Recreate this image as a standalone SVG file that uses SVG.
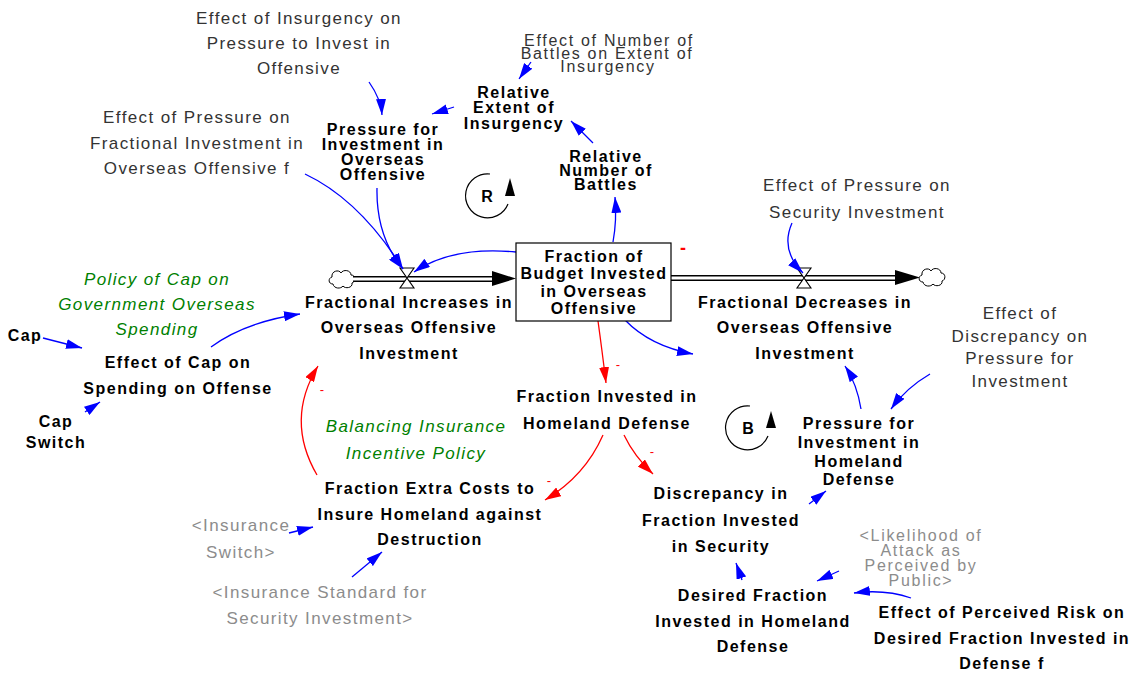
<svg xmlns="http://www.w3.org/2000/svg" width="1138" height="673" viewBox="0 0 1138 673">
  <style>
    text { text-anchor: middle; }
    .b { font-family: "Liberation Sans", Arial, sans-serif; font-weight: bold; font-size: 16px; letter-spacing: 1.5px; fill: #000; }
    .g { font-family: "Liberation Sans", Arial, sans-serif; font-size: 17px; letter-spacing: 1.4px; fill: #333; }
    .s { font-family: "Liberation Sans", Arial, sans-serif; font-size: 17px; letter-spacing: 1.4px; fill: #8c8c8c; }
    .tight { font-size: 16px; letter-spacing: 1.7px; }
    .p { font-family: "Liberation Sans", Arial, sans-serif; font-style: italic; font-size: 17px; letter-spacing: 1.4px; fill: #008000; }
    .pol { font-family: "Liberation Sans", Arial, sans-serif; font-size: 13px; fill: #ff0000; }
    .lnk { fill: none; stroke: #0000ff; stroke-width: 1.3; marker-end: url(#ab); }
    .neg { fill: none; stroke: #ff0000; stroke-width: 1.3; marker-end: url(#ar); }
    .loop { fill: none; stroke: #000; stroke-width: 1.2; }
  </style>
  <defs>
    <marker id="ab" viewBox="0 0 16 10" refX="16" refY="5" markerWidth="16" markerHeight="10" markerUnits="userSpaceOnUse" orient="auto">
      <path d="M0,0 L16,5 L0,10 z" fill="#0000ff"/>
    </marker>
    <marker id="ar" viewBox="0 0 16 10" refX="16" refY="5" markerWidth="16" markerHeight="10" markerUnits="userSpaceOnUse" orient="auto">
      <path d="M0,0 L16,5 L0,10 z" fill="#ff0000"/>
    </marker>
    <path id="cloud" d="M-9,5 C-14,5 -14,-1 -10,-2 C-11,-8 -3,-10 -1,-6 C1,-10 9,-9 9,-4 C14,-4 14,3 10,4 C11,9 3,10 1,7 C-1,10 -8,10 -9,5 Z" fill="#fff" stroke="#000" stroke-width="1"/>
    <path id="valve" d="M-7,-10 L7,-10 L-7,10 L7,10 Z" fill="#fff" stroke="#000" stroke-width="1.1"/>
  </defs>

  <rect width="1138" height="673" fill="#fff"/>

  <!-- flow pipes, clouds and valves -->
  <g id="flow-increase">
    <use href="#cloud" x="342" y="279"/>
    <line x1="353" y1="279" x2="494" y2="279" stroke="#000" stroke-width="6"/>
    <line x1="353" y1="279" x2="496" y2="279" stroke="#fff" stroke-width="3"/>
    <path d="M492,271 L516,278.5 L492,286 z" fill="#000"/>
    <use href="#valve" x="407" y="278"/>
  </g>
  <g id="flow-decrease">
    <line x1="671" y1="278" x2="897" y2="278" stroke="#000" stroke-width="6"/>
    <line x1="671" y1="278" x2="899" y2="278" stroke="#fff" stroke-width="3"/>
    <path d="M895,270 L920,277.5 L895,285 z" fill="#000"/>
    <use href="#cloud" x="932" y="277"/>
    <use href="#valve" x="804" y="278"/>
  </g>

  <!-- connectors -->
  <g id="connectors">
    <path class="lnk" d="M369,82 Q381,99 382,115"/>
    <path class="lnk" d="M454,107 L432,114"/>
    <path class="lnk" d="M531,62 L519,79"/>
    <path class="lnk" d="M593,143 L571,121"/>
    <path class="lnk" d="M613,242 Q617,220 615,197"/>
    <path class="lnk" d="M516,252 Q452,246 414,272"/>
    <path class="lnk" d="M305,174 Q360,200 403,269"/>
    <path class="lnk" d="M377,188 Q376,236 403,269"/>
    <path class="lnk" d="M625,320 Q650,346 693,354"/>
    <path class="lnk" d="M792,223 Q780,250 803,273"/>
    <path class="lnk" d="M861,409 Q857,384 845,366"/>
    <path class="lnk" d="M930,374 Q906,388 891,409"/>
    <path class="lnk" d="M809,504 L826,491"/>
    <path class="lnk" d="M742,580 L736,563"/>
    <path class="lnk" d="M839,571 L817,581"/>
    <path class="lnk" d="M911,598 Q885,589 854,593"/>
    <path class="lnk" d="M289,533 L313,527"/>
    <path class="lnk" d="M352,577 L382,552"/>
    <path class="lnk" d="M43,338 L82,348"/>
    <path class="lnk" d="M85,412 L100,402"/>
    <path class="lnk" d="M211,347 Q245,322 300,314"/>
    <path class="neg" d="M598,321 Q602,350 606,383"/>
    <path class="neg" d="M603,435 Q585,476 545,500"/>
    <path class="neg" d="M624,435 Q634,456 653,474"/>
    <path class="neg" d="M317,475 Q285,420 318,366"/>
    <text class="pol" x="322" y="394">-</text>
    <text class="pol" x="618" y="369">-</text>
    <text class="pol" x="549" y="485">-</text>
    <text class="pol" x="652" y="456">-</text>
    <text class="pol" x="683" y="254" style="font-size:18px;font-weight:bold">-</text>
  </g>

  <!-- loop markers -->
  <g id="loop-R">
    <path class="loop" d="M490,174 A22,22 0 1 0 508,204"/>
    <path d="M505,196 L515,196 L510,178 z" fill="#000"/>
    <text class="b" x="487" y="202" style="letter-spacing:0">R</text>
  </g>
  <g id="loop-B">
    <path class="loop" d="M750,406 A22,22 0 1 0 768,436"/>
    <path d="M766,428 L776,428 L771,411 z" fill="#000"/>
    <text class="b" x="748" y="434" style="letter-spacing:0">B</text>
  </g>

  <!-- stock -->
  <g id="stock-fraction-overseas">
    <rect x="516" y="243" width="155" height="78" fill="#fff" stroke="#000" stroke-width="1.2"/>
    <text class="b" x="594" y="262">Fraction of</text>
    <text class="b" x="594" y="279">Budget Invested</text>
    <text class="b" x="594" y="297">in Overseas</text>
    <text class="b" x="594" y="314">Offensive</text>
  </g>

  <!-- variables -->
  <g id="effect-insurgency-pressure">
    <text class="g" x="299" y="24">Effect of Insurgency on</text>
    <text class="g" x="299" y="49">Pressure to Invest in</text>
    <text class="g" x="299" y="74">Offensive</text>
  </g>
  <g id="effect-pressure-fractional">
    <text class="g" x="197" y="123">Effect of Pressure on</text>
    <text class="g" x="197" y="149">Fractional Investment in</text>
    <text class="g" x="197" y="174">Overseas Offensive f</text>
  </g>
  <g id="effect-battles-insurgency">
    <text class="g tight" x="609" y="46">Effect of Number of</text>
    <text class="g tight" x="607" y="59">Battles on Extent of</text>
    <text class="g tight" x="608" y="72">Insurgency</text>
  </g>
  <g id="relative-extent">
    <text class="b" x="514" y="98">Relative</text>
    <text class="b" x="514" y="113">Extent of</text>
    <text class="b" x="514" y="129">Insurgency</text>
  </g>
  <g id="pressure-overseas">
    <text class="b" x="383" y="135">Pressure for</text>
    <text class="b" x="383" y="150">Investment in</text>
    <text class="b" x="383" y="165">Overseas</text>
    <text class="b" x="383" y="180">Offensive</text>
  </g>
  <g id="relative-battles">
    <text class="b" x="606" y="162">Relative</text>
    <text class="b" x="606" y="176">Number of</text>
    <text class="b" x="606" y="190">Battles</text>
  </g>
  <g id="effect-pressure-security">
    <text class="g" x="857" y="191">Effect of Pressure on</text>
    <text class="g" x="857" y="218">Security Investment</text>
  </g>
  <g id="fractional-increases">
    <text class="b" x="409" y="308">Fractional Increases in</text>
    <text class="b" x="409" y="333">Overseas Offensive</text>
    <text class="b" x="409" y="359">Investment</text>
  </g>
  <g id="fractional-decreases">
    <text class="b" x="805" y="308">Fractional Decreases in</text>
    <text class="b" x="805" y="333">Overseas Offensive</text>
    <text class="b" x="805" y="359">Investment</text>
  </g>
  <g id="effect-discrepancy-pressure">
    <text class="g" x="1020" y="319">Effect of</text>
    <text class="g" x="1020" y="342">Discrepancy on</text>
    <text class="g" x="1020" y="364">Pressure for</text>
    <text class="g" x="1020" y="387">Investment</text>
  </g>
  <g id="policy-cap">
    <text class="p" x="157" y="285">Policy of Cap on</text>
    <text class="p" x="157" y="310">Government Overseas</text>
    <text class="p" x="157" y="335">Spending</text>
  </g>
  <g id="cap">
    <text class="b" x="25" y="341">Cap</text>
  </g>
  <g id="effect-cap">
    <text class="b" x="178" y="368">Effect of Cap on</text>
    <text class="b" x="178" y="394">Spending on Offense</text>
  </g>
  <g id="cap-switch">
    <text class="b" x="56" y="427">Cap</text>
    <text class="b" x="56" y="448">Switch</text>
  </g>
  <g id="fraction-homeland">
    <text class="b" x="607" y="402">Fraction Invested in</text>
    <text class="b" x="607" y="429">Homeland Defense</text>
  </g>
  <g id="policy-insurance">
    <text class="p" x="416" y="432">Balancing Insurance</text>
    <text class="p" x="416" y="459">Incentive Policy</text>
  </g>
  <g id="pressure-homeland">
    <text class="b" x="859" y="429">Pressure for</text>
    <text class="b" x="859" y="448">Investment in</text>
    <text class="b" x="859" y="467">Homeland</text>
    <text class="b" x="859" y="485">Defense</text>
  </g>
  <g id="fraction-extra-costs">
    <text class="b" x="430" y="494">Fraction Extra Costs to</text>
    <text class="b" x="430" y="520">Insure Homeland against</text>
    <text class="b" x="430" y="545">Destruction</text>
  </g>
  <g id="insurance-switch">
    <text class="s" x="241" y="531">&lt;Insurance</text>
    <text class="s" x="241" y="558">Switch&gt;</text>
  </g>
  <g id="discrepancy">
    <text class="b" x="721" y="499">Discrepancy in</text>
    <text class="b" x="721" y="526">Fraction Invested</text>
    <text class="b" x="721" y="552">in Security</text>
  </g>
  <g id="likelihood-attack">
    <text class="s tight" x="921" y="541">&lt;Likelihood of</text>
    <text class="s tight" x="921" y="556">Attack as</text>
    <text class="s tight" x="921" y="571">Perceived by</text>
    <text class="s tight" x="921" y="586">Public&gt;</text>
  </g>
  <g id="insurance-standard">
    <text class="s" x="320" y="598">&lt;Insurance Standard for</text>
    <text class="s" x="320" y="624">Security Investment&gt;</text>
  </g>
  <g id="desired-fraction">
    <text class="b" x="753" y="601">Desired Fraction</text>
    <text class="b" x="753" y="627">Invested in Homeland</text>
    <text class="b" x="753" y="652">Defense</text>
  </g>
  <g id="effect-perceived-risk">
    <text class="b" x="1002" y="618">Effect of Perceived Risk on</text>
    <text class="b" x="1002" y="644">Desired Fraction Invested in</text>
    <text class="b" x="1002" y="669">Defense f</text>
  </g>
</svg>
